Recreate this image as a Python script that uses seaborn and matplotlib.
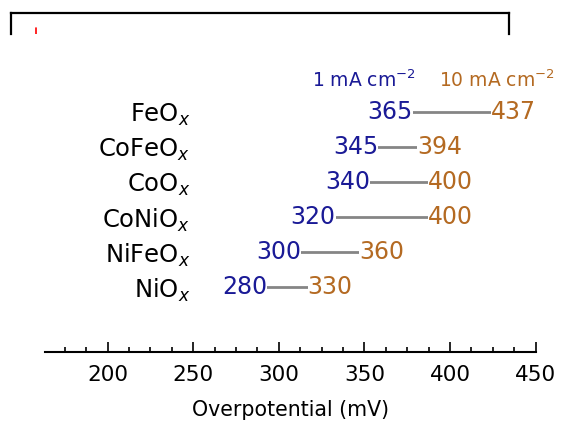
import matplotlib
matplotlib.use("Agg")
import matplotlib.pyplot as plt
import seaborn as sns
import pandas as pd
from matplotlib.ticker import MultipleLocator

# ---- data ----
categories = ["FeO$_{\\mathit{x}}$", "CoFeO$_{\\mathit{x}}$", "CoO$_{\\mathit{x}}$",
              "CoNiO$_{\\mathit{x}}$", "NiFeO$_{\\mathit{x}}$", "NiO$_{\\mathit{x}}$"]
eta_1mA = [365, 345, 340, 320, 300, 280]
eta_10mA = [437, 394, 400, 400, 360, 330]
header_1mA = "1 mA cm$^{-2}$"
header_10mA = "10 mA cm$^{-2}$"
xticks = [200, 250, 300, 350, 400, 450]
xlabel = "Overpotential (mV)"

BLUE = "#1a1a96"
ORANGE = "#b46a22"
GRAY = "#858585"

sns.set_theme(style="ticks")
plt.rcParams["font.family"] = ["DejaVu Sans"]
plt.rcParams["mathtext.fontset"] = "dejavusans"

n = len(categories)
rows = [n - 1 - i for i in range(n)]  # FeOx on top

long = pd.DataFrame({
    "cat": categories * 2,
    "row": rows * 2,
    "eta": eta_1mA + eta_10mA,
})

fig = plt.figure(figsize=(5.63, 4.23), dpi=100)

# cropped bracket from a panel above
ax_top = fig.add_axes([10.7 / 563, 1 - 34 / 423, (509.3 - 10.7) / 563, (34 - 13.3) / 423])
ax_top.set_xticks([])
ax_top.set_yticks([])
ax_top.patch.set_visible(False)
for s in ["top", "left", "right"]:
    ax_top.spines[s].set_linewidth(1.6)
    ax_top.spines[s].set_color("black")
ax_top.spines["bottom"].set_visible(False)
ax_top.plot([0.051, 0.051], [0.0, 0.3], color="red", lw=1.2, transform=ax_top.transAxes)

ax = fig.add_axes([45 / 563, 71 / 423, (535.7 - 45) / 563, (352 - 40) / 423])
ax.patch.set_visible(False)

sns.lineplot(data=long, x="eta", y="row", units="cat", estimator=None, sort=False,
             color=GRAY, lw=2.0, ax=ax, legend=False)

for r, a, b in zip(rows, eta_1mA, eta_10mA):
    ax.text(a, r, str(a), color=BLUE, fontsize=17, ha="center", va="center",
            bbox=dict(facecolor="white", edgecolor="none", pad=0.0), zorder=5)
    ax.text(b, r, str(b), color=ORANGE, fontsize=17, ha="center", va="center",
            bbox=dict(facecolor="white", edgecolor="none", pad=0.0), zorder=5)

ax.text(319.2, 5.705, header_1mA, color=BLUE, fontsize=13.5, ha="left", va="baseline")
ax.text(393.5, 5.705, header_10mA, color=ORANGE, fontsize=13.5, ha="left", va="baseline",
        clip_on=False)

ax.set_xlim(163.5, 450)
ax.set_ylim(-1.84, 7.034)

ax.set_yticks(rows)
ax.set_yticklabels(categories, fontsize=17.5, color="black")
ax.tick_params(axis="y", length=0, pad=-104.5)

ax.set_xticks(xticks)
ax.set_xticklabels([str(t) for t in xticks], fontsize=15.5, color="black")
ax.xaxis.set_minor_locator(MultipleLocator(12.5))
ax.tick_params(axis="x", which="major", direction="in", length=7, width=1.2, pad=9.5, color="black")
ax.tick_params(axis="x", which="minor", direction="in", length=3.5, width=1.2, color="black")
ax.set_xlabel(xlabel, fontsize=14.8, labelpad=11, color="black")
ax.set_ylabel("")

for s in ["top", "left", "right"]:
    ax.spines[s].set_visible(False)
ax.spines["bottom"].set_linewidth(1.5)
ax.spines["bottom"].set_color("black")

fig.savefig("out.png", dpi=100)
